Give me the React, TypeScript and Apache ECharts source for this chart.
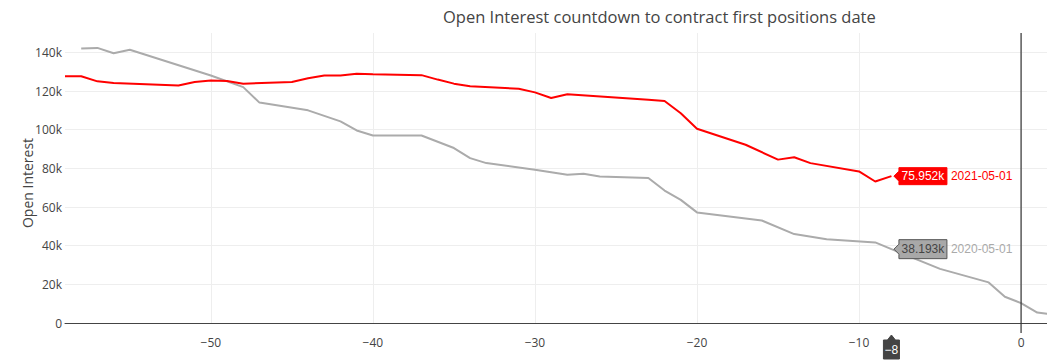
import React, { useEffect, useRef } from 'react';
import * as echarts from 'echarts';

const chartTitle = 'Open Interest countdown to contract first positions date';
const yAxisName = 'Open Interest';
const xTickValues = [-50, -40, -30, -20, -10, 0];
const yTickValues = [0, 20000, 40000, 60000, 80000, 100000, 120000, 140000];

const series2021Name = '2021-05-01';
const days2021 = [-59, -58, -57, -56, -52, -51, -50, -49, -48, -45, -44, -43, -42, -41, -40, -37, -36, -35, -34, -31, -30, -29, -28, -23, -22, -21, -20, -17, -15, -14, -13, -10, -9, -8];
const oi2021 = [127600, 127600, 125000, 124200, 122800, 124700, 125400, 125200, 123800, 124700, 126600, 128000, 128000, 128900, 128700, 128200, 125900, 123800, 122400, 121200, 119300, 116400, 118300, 115500, 114800, 108500, 100500, 92200, 84500, 85700, 82700, 78400, 73200, 75952];

const series2020Name = '2020-05-01';
const days2020 = [-58, -57, -56, -55, -50, -48, -47, -44, -42, -41, -40, -37, -35, -34, -33, -30, -29, -28, -27, -26, -23, -22, -21, -20, -16, -14, -12, -9, -8, -5, -2, -1, 0, 1, 2];
const oi2020 = [142000, 142300, 139500, 141300, 128000, 122000, 114000, 110000, 104300, 99600, 97000, 97000, 90500, 85300, 82700, 79300, 78000, 76700, 77200, 75800, 75000, 68500, 63700, 57200, 53000, 46000, 43300, 41700, 38193, 28000, 21000, 13600, 10300, 5400, 4300];

const hoverDay = -8;

const RED = '#ff0000';
const GRAY = '#ababab';
const AXIS_FONT = "'Open Sans', 'DejaVu Sans', sans-serif";
const HOVER_FONT = "'Liberation Sans', Arial, sans-serif";

const fmtMinus = (v: number) => String(v).replace('-', '\u2212');

export default function App() {
  const ref = useRef<HTMLDivElement>(null);

  useEffect(() => {
    if (!ref.current) return;
    const chart = echarts.init(ref.current, undefined, { renderer: 'svg' });
    const redData = days2021.map((d, i) => [d, oi2021[i]]);
    const grayData = days2020.map((d, i) => [d, oi2020[i]]);

    chart.setOption({
      animation: false,
      backgroundColor: '#ffffff',
      title: {
        text: chartTitle,
        left: 443,
        top: 8,
        padding: 0,
        textStyle: { fontFamily: AXIS_FONT, fontSize: 16.5, fontWeight: 'normal', color: '#444' },
      },
      grid: { left: 65, right: 0, top: 33, bottom: 41, containLabel: false },
      xAxis: {
        type: 'value',
        min: -59,
        max: 1.6,
        axisLine: { show: true, onZero: true, lineStyle: { color: '#444', width: 1 } },
        axisTick: { show: false, customValues: xTickValues },
        axisLabel: {
          customValues: xTickValues,
          formatter: (v: number) => fmtMinus(v),
          fontFamily: AXIS_FONT,
          fontSize: 12,
          color: '#444',
          margin: 13,
        },
        splitLine: { show: true, lineStyle: { color: '#eeeeee', width: 1 } },
      },
      yAxis: {
        type: 'value',
        min: 0,
        max: 150000,
        name: yAxisName,
        nameLocation: 'middle',
        nameGap: 31,
        nameMoveOverlap: false,
        nameTextStyle: { fontFamily: AXIS_FONT, fontSize: 14, color: '#444', padding: [0, 10, 0, 0] },
        axisLine: { show: false },
        axisTick: { show: false, customValues: yTickValues },
        axisLabel: {
          customValues: yTickValues,
          formatter: (v: number) => (v === 0 ? '0' : v / 1000 + 'k'),
          fontFamily: AXIS_FONT,
          fontSize: 12,
          color: '#444',
          margin: 3,
        },
        splitLine: { show: true, lineStyle: { color: '#eeeeee', width: 1 } },
      },
      series: [
        {
          name: series2020Name,
          type: 'line',
          data: grayData,
          showSymbol: false,
          lineStyle: { color: GRAY, width: 2 },
          itemStyle: { color: GRAY },
          z: 2,
        },
        {
          name: series2021Name,
          type: 'line',
          data: redData,
          showSymbol: false,
          lineStyle: { color: RED, width: 2 },
          itemStyle: { color: RED },
          z: 3,
        },
      ],
    });

    const redVal = oi2021[days2021.indexOf(hoverDay)];
    const grayVal = oi2020[days2020.indexOf(hoverDay)];
    const pRed = chart.convertToPixel({ gridIndex: 0 }, [hoverDay, redVal]) as number[];
    const pGray = chart.convertToPixel({ gridIndex: 0 }, [hoverDay, grayVal]) as number[];
    const pZero = chart.convertToPixel({ gridIndex: 0 }, [0, 0]) as number[];
    const pTop = chart.convertToPixel({ gridIndex: 0 }, [0, 150000]) as number[];
    const pHoverBase = chart.convertToPixel({ gridIndex: 0 }, [hoverDay, 0]) as number[];

    const makeLabel = (p: number[], val: number, name: string, fill: string, stroke: string, textColor: string, nameColor: string, h: number) => {
      const tipX = p[0] + 2.5;
      const boxL = tipX + 5;
      const boxR = boxL + 48;
      const top = p[1] - h / 2;
      const bot = p[1] + h / 2;
      return [
        {
          type: 'polygon',
          z: 100,
          shape: {
            points: [
              [tipX, p[1]],
              [boxL, p[1] - 5],
              [boxL, top],
              [boxR, top],
              [boxR, bot],
              [boxL, bot],
              [boxL, p[1] + 5],
            ],
          },
          style: { fill, stroke, lineWidth: 1 },
        },
        {
          type: 'text',
          z: 101,
          x: (boxL + boxR) / 2,
          y: p[1],
          style: {
            text: (val / 1000).toFixed(3) + 'k',
            fill: textColor,
            font: `12px ${HOVER_FONT}`,
            align: 'center',
            verticalAlign: 'middle',
          },
        },
        {
          type: 'text',
          z: 101,
          x: boxR + 4,
          y: p[1],
          style: {
            text: name,
            fill: nameColor,
            font: `12px ${HOVER_FONT}`,
            align: 'left',
            verticalAlign: 'middle',
          },
        },
      ];
    };

    const hx = pHoverBase[0];
    const hy = pHoverBase[1];

    chart.setOption({
      graphic: [
        {
          type: 'line',
          z: 50,
          shape: { x1: pZero[0], y1: pTop[1], x2: pZero[0], y2: pZero[1] + 10 },
          style: { stroke: '#333', lineWidth: 1.2 },
        },
        ...makeLabel(pRed, redVal, series2021Name, RED, RED, '#ffffff', RED, 17),
        ...makeLabel(pGray, grayVal, series2020Name, '#a8a8a8', '#555', '#444', '#aaaaaa', 19),
        {
          type: 'polygon',
          z: 100,
          shape: {
            points: [
              [hx, hy + 12],
              [hx + 4, hy + 17],
              [hx + 8, hy + 17],
              [hx + 8, hy + 36],
              [hx - 8, hy + 36],
              [hx - 8, hy + 17],
              [hx - 4, hy + 17],
            ],
          },
          style: { fill: '#444', stroke: '#444', lineWidth: 1 },
        },
        {
          type: 'text',
          z: 101,
          x: hx,
          y: hy + 27,
          style: {
            text: fmtMinus(hoverDay),
            fill: '#ffffff',
            font: `12px ${HOVER_FONT}`,
            align: 'center',
            verticalAlign: 'middle',
          },
        },
      ],
    });

    return () => chart.dispose();
  }, []);

  return (
    <div
      ref={ref}
      style={{ position: 'fixed', left: 0, top: 0, width: '1047px', height: '364px', background: '#fff' }}
    />
  );
}
